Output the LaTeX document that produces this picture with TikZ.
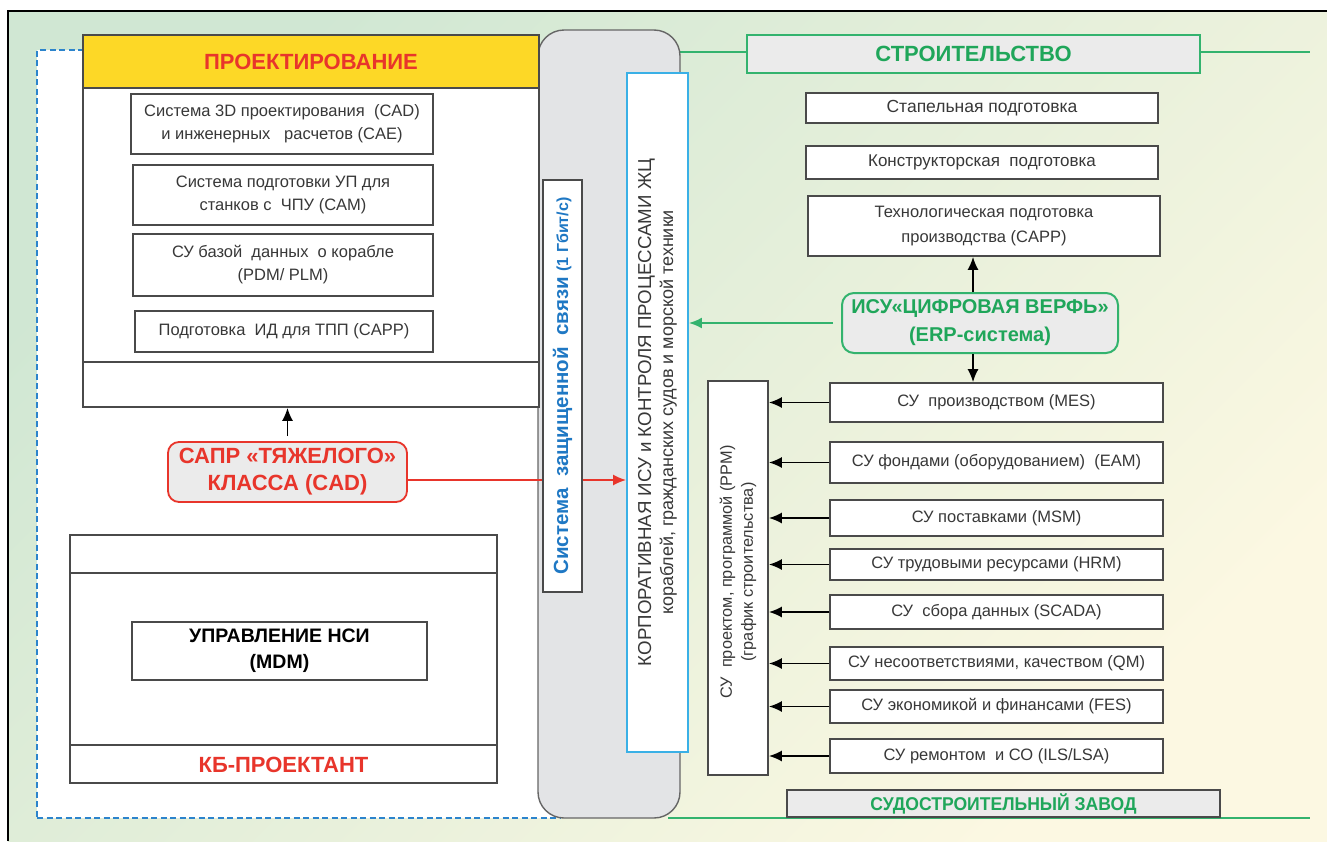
\documentclass[tikz,border=0pt]{standalone}
\usepackage{fontspec}
\setmainfont{Liberation Sans}
\usetikzlibrary{arrows.meta}
\definecolor{bgA}{HTML}{D0E7D3}
\definecolor{bgB}{HTML}{FCF8E2}
\definecolor{boxline}{HTML}{4A4A4A}
\definecolor{txt}{HTML}{383838}
\definecolor{hdrYellow}{HTML}{FDD826}
\definecolor{redT}{HTML}{E8352B}
\definecolor{greenT}{HTML}{1FA65A}
\definecolor{greenL}{HTML}{33B36E}
\definecolor{blueT}{HTML}{1F78C4}
\definecolor{blueD}{HTML}{2C84CC}
\definecolor{corpB}{HTML}{3AB0E6}
\definecolor{greyF}{HTML}{E3E4E6}
\definecolor{greyN}{HTML}{EBEBEB}
\newcommand{\fs}[2]{\fontsize{#1}{#2}\selectfont}
\begin{document}
\begin{tikzpicture}[x=1pt,y=-1pt,
  frame/.style={draw=boxline, line width=1.7pt, fill=white, inner sep=0pt},
  box/.style={draw=boxline, line width=1.7pt, fill=white, text=txt, inner sep=1pt, align=center, font=\fs{16.5}{23}},
  rbox/.style={box, minimum width=333pt},
  sepline/.style={draw=boxline, line width=1.7pt},
  arr/.style={draw=black, line width=1.7pt, -{Latex[length=13pt,width=11pt]}},
  garr/.style={draw=greenL, line width=2pt, -{Latex[length=13pt,width=11pt]}},
  rarr/.style={draw=redT, line width=1.7pt, -{Latex[length=13pt,width=11pt]}},
  gline/.style={draw=greenL, line width=2pt},
  lbl/.style={inner sep=0pt, align=center}
]
\useasboundingbox (0,0) rectangle (1327,841);
\fill[white] (0,0) rectangle (1327,841);
% background
\shade[top color=bgA, bottom color=bgB, shading angle=45] (8,11) rectangle (1327,841);
\draw[black, line width=2.8pt] (8,841) -- (8,11) -- (1327,11);

% dashed region
\node[draw=blueD, dash pattern=on 6pt off 3.5pt, line width=2pt, fill=white, minimum width=523pt, minimum height=768pt, inner sep=0pt] (dash) at (298.5,434) {};

% green lines
\coordinate (gTopEnd) at (1310,52);
\coordinate (gBotEnd) at (1310,818);
\coordinate (gTopStart) at (670,52);
\coordinate (gBotStart) at (668,818);
\draw[gline] (gTopStart) -- (gTopEnd);
\draw[gline] (gBotStart) -- (gBotEnd);

% grey rounded column
\node[draw=gray!80!black, line width=1.4pt, fill=greyF, rounded corners=26pt, minimum width=142pt, minimum height=788pt, inner sep=0pt] (grey) at (609,424) {};

% PROEKTIROVANIE block
\node[frame, minimum width=456pt, minimum height=372pt] (proj) at (311,221) {};
\node[draw=boxline, line width=1.7pt, fill=hdrYellow, minimum width=456pt, minimum height=53pt, inner sep=0pt, text=redT, font=\fs{22}{26}\bfseries] (projh) at (311,61.5) {ПРОЕКТИРОВАНИЕ};
\draw[sepline] (proj.west |- 0,362) -- (proj.east |- 0,362);
\node[box, minimum width=302pt, minimum height=60pt] (b1) at (282,124) {Система 3D проектирования\ \ (CAD)\\и инженерных\ \ \ расчетов (CAE)};
\node[box, minimum width=300pt, minimum height=60pt] (b2) at (283,195) {Система подготовки УП для\\станков с\ \ ЧПУ (CAM)};
\node[box, minimum width=300pt, minimum height=62pt] (b3) at (283,265) {СУ базой\ \ данных\ \ о корабле\\(PDM/ PLM)};
\node[box, minimum width=298pt, minimum height=41pt] (b4) at (284,331.5) {Подготовка\ \ ИД для ТПП (CAPP)};

% SAPR
\node[draw=redT, line width=1.8pt, fill=greyN, rounded corners=11pt, minimum width=239pt, minimum height=60pt, inner sep=0pt, align=center, text=redT, font=\fs{22}{27}\bfseries] (sapr) at (287.5,472) {САПР «ТЯЖЕЛОГО»\\КЛАССА (CAD)};
\draw[arr] ([yshift=5pt]sapr.north) -- (sapr.north |- proj.south);

% KB block
\node[frame, minimum width=427pt, minimum height=248pt] (kb) at (283.5,659) {};
\draw[sepline] (kb.west |- 0,573) -- (kb.east |- 0,573);
\draw[sepline] (kb.west |- 0,745) -- (kb.east |- 0,745);
\node[lbl, text=redT, font=\fs{22}{26}\bfseries] (kbl) at (283.5,764.5) {КБ-ПРОЕКТАНТ};
\node[box, minimum width=295pt, minimum height=58pt, text=black, font=\fs{19.5}{26}\bfseries] (mdm) at (279.5,651) {УПРАВЛЕНИЕ НСИ\\(MDM)};

% corporate box
\node[draw=corpB, line width=1.8pt, fill=white, minimum width=61pt, minimum height=679pt, inner sep=0pt] (corp) at (657.5,412.5) {};
\node[lbl, rotate=90, text=txt, font=\fs{18.7}{22}] (corpt) at (corp.center) {КОРПОРАТИВНАЯ ИСУ и КОНТРОЛЯ ПРОЦЕССАМИ ЖЦ\\{\fs{18}{22}кораблей,\ гражданских\ судов и морской техники}};

% red arrow
\draw[rarr] ([yshift=-8pt]sapr.east) -- ([yshift=-8pt]sapr.east -| corp.west);

% secure link box
\node[draw=boxline, line width=1.7pt, fill=white, minimum width=39pt, minimum height=412pt, inner sep=0pt] (sec) at (562.5,386) {};
\node[lbl, rotate=90, text=blueT, font=\fs{20.5}{24}\bfseries] (sect) at (sec.center) {Система\ \ защищенной\ \ связи {\fs{16}{18}(1 Гбит/с)}};

% STROITELSTVO
\node[draw=greenL, line width=2pt, fill=greyN, minimum width=453pt, minimum height=38pt, inner sep=0pt, text=greenT, font=\fs{22}{26}\bfseries] (stroi) at (973.5,54) {СТРОИТЕЛЬСТВО};

\node[box, minimum width=352pt, minimum height=30pt, font=\fs{17.5}{23}] (stap) at (982,108) {Стапельная подготовка};
\node[box, minimum width=352pt, minimum height=33pt, font=\fs{17}{23}] (konst) at (982,162.5) {Конструкторская\ \ подготовка};
\node[box, minimum width=352pt, minimum height=60pt, font=\fs{16.5}{25}] (capp) at (984,226) {Технологическая подготовка\\производства (CAPP)};

% ISU
\node[draw=greenL, line width=2pt, fill=greyN, rounded corners=12pt, minimum width=276pt, minimum height=60pt, inner sep=0pt, align=center, text=greenT, font=\fs{20}{28}\bfseries] (isu) at (980,323) {ИСУ«ЦИФРОВАЯ ВЕРФЬ»\\(ERP-система)};
\coordinate (ax) at (973,0);
\draw[arr] (isu.north -| ax) -- (capp.south -| ax);
\draw[garr] ([xshift=-8pt]isu.west) -- (isu.west -| corp.east);

% PPM box
\node[frame, minimum width=60pt, minimum height=394pt] (ppm) at (738,578) {};
\node[lbl, rotate=90, text=txt, font=\fs{16.3}{21}] (ppmt) at (738,572) {СУ\ \ проектом,\ программой (PPM)\\(график строительства)};

% right boxes
\node[rbox, minimum height=39pt] (mes) at (996.5,402.5) {СУ\ \ производством (MES)};
\node[rbox, minimum height=41pt] (eam) at (996.5,462.5) {СУ фондами (оборудованием)\ \ (EAM)};
\node[rbox, minimum height=36pt] (msm) at (996.5,518) {СУ поставками (MSM)};
\node[rbox, minimum height=31pt] (hrm) at (996.5,564.5) {СУ трудовыми ресурсами (HRM)};
\node[rbox, minimum height=34pt] (scada) at (996.5,612) {СУ\ \ сбора данных (SCADA)};
\node[rbox, minimum height=33pt] (qm) at (996.5,663.5) {СУ несоответствиями, качеством (QM)};
\node[rbox, minimum height=33pt] (fes) at (996.5,706.5) {СУ экономикой и финансами (FES)};
\node[rbox, minimum height=34pt] (ils) at (996.5,756) {СУ ремонтом\ \ и СО (ILS/LSA)};

\draw[arr] (isu.south -| ax) -- (mes.north -| ax);
\foreach \n in {mes,eam,msm,hrm,scada,qm,fes,ils}
  \draw[arr] (\n.west) -- (\n.west -| ppm.east);

% zavod
\node[draw=boxline, line width=1.7pt, fill=greyN, minimum width=433pt, minimum height=27pt, inner sep=0pt, text=greenT, font=\fs{18.5}{20}\bfseries] (zavod) at (1003.5,803.5) {\raisebox{-3pt}{\scalebox{0.95}[1]{СУДОСТРОИТЕЛЬНЫЙ ЗАВОД}}};
\end{tikzpicture}
\end{document}
